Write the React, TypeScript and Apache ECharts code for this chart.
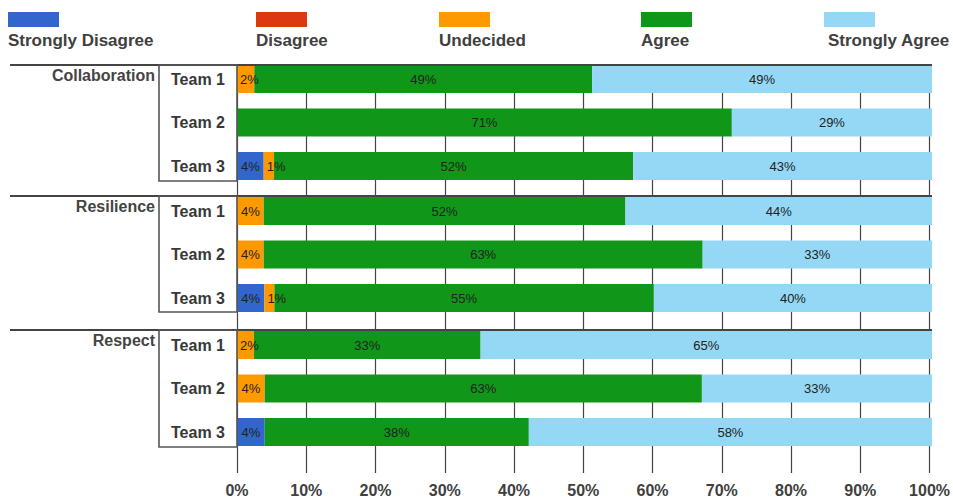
import React, { useEffect, useRef } from "react";
import * as echarts from "echarts";

const groups = ["Collaboration", "Resilience", "Respect"];
const teams = ["Team 1", "Team 2", "Team 3"];
const levels = ["Strongly Disagree", "Disagree", "Undecided", "Agree", "Strongly Agree"];
const levelColors = ["#3366CC", "#DC3912", "#FF9900", "#109618", "#94D8F6"];

// rows: Collaboration T1..T3, Resilience T1..T3, Respect T1..T3 (percent)
const stronglyDisagree = [0, 0, 3.84, 0, 0, 3.94, 0, 0, 3.99];
const disagree = [0, 0, 0, 0, 0, 0, 0, 0, 0];
const undecided = [2.49, 0, 1.49, 3.84, 3.84, 1.44, 2.45, 3.99, 0];
const agree = [48.6, 71.2, 51.67, 52.06, 63.16, 54.6, 32.6, 62.9, 38.0];
const stronglyAgree = [48.91, 28.8, 43.0, 44.1, 33.0, 40.02, 64.95, 33.11, 58.01];

const xTicks = [0, 10, 20, 30, 40, 50, 60, 70, 80, 90, 100];

const FONT = "'Liberation Sans', Arial, sans-serif";

export default function App() {
  const ref = useRef<HTMLDivElement>(null);

  useEffect(() => {
    if (!ref.current) return;
    const chart = echarts.init(ref.current, undefined, { renderer: "svg" });

    const plotLeft = 237;
    const plotRight = 932;
    const W = 953;
    const H = 499;
    const groupLineY = [65, 196, 330];
    const barTops = [65, 197, 331];
    const band = 43.5;
    const barH = 28;
    const boxBottoms = [181, 312, 447];
    const pxPerUnit = (plotRight - plotLeft) / 100;

    const levelData = [stronglyDisagree, disagree, undecided, agree, stronglyAgree];

    const grids: any[] = [];
    const xAxes: any[] = [];
    const yAxes: any[] = [];
    const series: any[] = [];

    const fmt = (v: number) => Math.round(v) + "%";

    groups.forEach((g, gi) => {
      grids.push({
        left: plotLeft,
        right: W - plotRight,
        top: barTops[gi] - (band - barH) / 2,
        height: band * teams.length,
        containLabel: false,
      });
      xAxes.push({ gridIndex: gi, type: "value", min: 0, max: 100, show: false });
      yAxes.push({
        gridIndex: gi,
        type: "category",
        data: teams,
        inverse: true,
        axisLine: { show: false },
        axisTick: { show: false },
        splitLine: { show: false },
        axisLabel: {
          align: "center",
          margin: 39,
          fontFamily: FONT,
          fontWeight: "bold",
          fontSize: 16,
          color: "#383838",
        },
      });
      levels.forEach((lv, li) => {
        const vals = levelData[li].slice(gi * teams.length, (gi + 1) * teams.length);
        series.push({
          type: "bar",
          name: lv,
          xAxisIndex: gi,
          yAxisIndex: gi,
          stack: "g" + gi,
          barWidth: barH,
          z: 3,
          itemStyle: { color: levelColors[li] },
          label: {
            show: true,
            position: "inside",
            fontFamily: FONT,
            fontSize: 13,
            color: "#222",
            formatter: (p: any) => (p.value > 0 ? fmt(p.value) : ""),
          },
          data: vals.map((v) => {
            const textW = fmt(v).length * 7.3;
            if (v > 0 && v * pxPerUnit < textW + 6) {
              return { value: v, label: { position: "insideLeft", distance: 3 } };
            }
            return v;
          }),
        });
      });
    });

    // axis grid (gridlines + labels)
    const axisGi = groups.length;
    grids.push({ left: plotLeft, right: W - plotRight, top: 65, bottom: H - 473 });
    xAxes.push({
      gridIndex: axisGi,
      type: "value",
      min: xTicks[0],
      max: xTicks[xTicks.length - 1],
      interval: xTicks[1] - xTicks[0],
      axisLine: { show: false },
      axisTick: { show: false },
      splitLine: { show: true, lineStyle: { color: "#444", width: 1.2 } },
      axisLabel: {
        margin: 9,
        formatter: "{value}%",
        fontFamily: FONT,
        fontWeight: "bold",
        fontSize: 16,
        color: "#404040",
      },
    });
    yAxes.push({ gridIndex: axisGi, type: "value", show: false, min: 0, max: 1 });

    const graphic: any[] = [];
    const legendRectX = [8, 256, 439, 641, 824];
    const legendTextX = [8, 256, 439, 641, 828];
    levels.forEach((lv, li) => {
      graphic.push({
        type: "rect",
        shape: { x: legendRectX[li], y: 12, width: 51, height: 15 },
        style: { fill: levelColors[li] },
      });
      graphic.push({
        type: "text",
        x: legendTextX[li],
        y: 40,
        style: {
          text: lv,
          fontFamily: FONT,
          fontWeight: "bold",
          fontSize: 17,
          fill: "#404040",
          textVerticalAlign: "middle",
          textAlign: "left",
        },
      });
    });
    groups.forEach((g, gi) => {
      graphic.push({
        type: "line",
        shape: { x1: 10, y1: groupLineY[gi], x2: plotRight, y2: groupLineY[gi] },
        style: { stroke: "#444", lineWidth: 2 },
        z: 10,
      });
      graphic.push({
        type: "rect",
        shape: { x: 159, y: groupLineY[gi], width: plotLeft - 159, height: boxBottoms[gi] - groupLineY[gi] },
        style: { fill: "none", stroke: "#555", lineWidth: 1.6 },
        z: 10,
      });
      graphic.push({
        type: "text",
        x: 155,
        y: groupLineY[gi] + 10,
        style: {
          text: g,
          fontFamily: FONT,
          fontWeight: "bold",
          fontSize: 16,
          fill: "#444",
          textAlign: "right",
          textVerticalAlign: "middle",
        },
        z: 10,
      });
    });

    chart.setOption({
      animation: false,
      backgroundColor: "#ffffff",
      grid: grids,
      xAxis: xAxes,
      yAxis: yAxes,
      series,
      graphic,
    });

    return () => chart.dispose();
  }, []);

  return (
    <div
      ref={ref}
      style={{ position: "absolute", left: 0, top: 0, width: 953, height: 499 }}
    />
  );
}
